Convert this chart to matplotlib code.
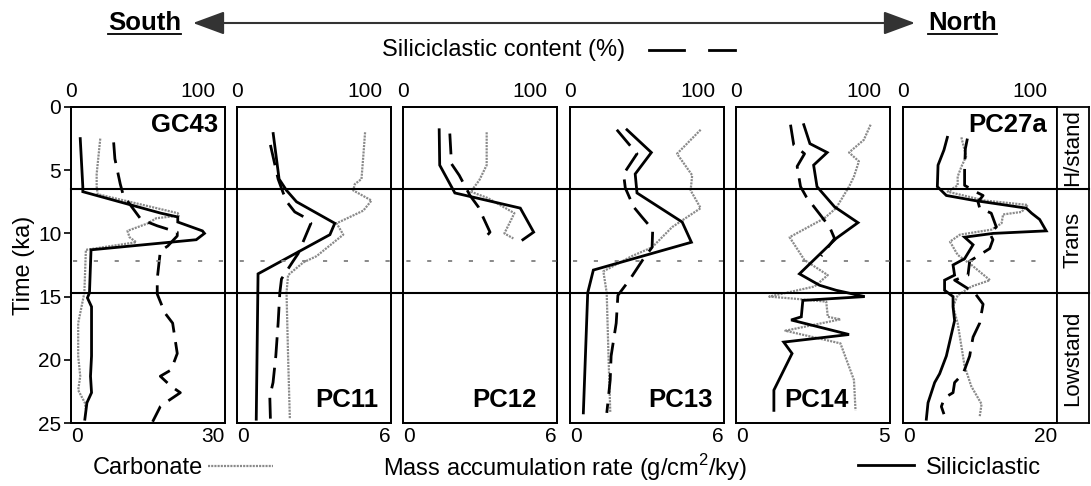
import numpy as np
import matplotlib.pyplot as plt
from matplotlib.lines import Line2D
from matplotlib.patches import FancyArrowPatch
import matplotlib.transforms as mtransforms

plt.rcParams['font.family'] = ['Liberation Sans', 'DejaVu Sans']
plt.rcParams['mathtext.fontset'] = 'custom'
plt.rcParams['mathtext.rm'] = 'Liberation Sans'
plt.rcParams['lines.scale_dashes'] = False

# cores south -> north, and max of the bottom (MAR) axis
cores = ['GC43', 'PC11', 'PC12', 'PC13', 'PC14', 'PC27a']
mar_max = [30, 6, 6, 6, 5, 20]
pct_max = 100

# sea-level stage boundaries (ka)
t_holo = 6.5
t_lgm = 14.7
t_mid = 12.2
stages = ['H/stand', 'Trans', 'Lowstand']
stage_mid = [3.2, 10.5, 19.9]

# GC43
gc43_sil_t = [2.5, 6.3, 6.7, 8.4, 8.7, 9.1, 9.8, 10.0, 10.5, 11.3, 14.7, 15.1, 15.8, 19.7, 21.3, 22.6, 23.4, 24.7]
gc43_sil = [1.8, 2.3, 2.3, 17.5, 20.8, 20.8, 25.6, 26.0, 24.4, 3.9, 3.6, 3.2, 4.0, 4.0, 3.8, 4.0, 3.1, 2.7]
gc43_pct_t = [2.8, 4.1, 6.1, 7.0, 8.9, 9.4, 9.9, 10.2, 11.0, 11.4, 13.6, 14.8, 16.3, 17.1, 19.5, 20.8, 21.3, 22.1, 22.6, 23.3, 23.7, 24.9]
gc43_pct = [27.7, 28.5, 32, 34, 45.5, 56, 69, 69, 62.8, 58, 56, 56, 61, 66, 69, 65, 58, 65, 71, 62.5, 58, 53]
gc43_carb_t = [2.5, 5.3, 6.3, 6.9, 8.4, 8.6, 8.8, 9.2, 9.8, 10.3, 10.7, 11.3, 14.7, 17.1, 19.7, 21.3, 22.4, 23.4, 23.9]
gc43_carb = [5.7, 5.0, 5.0, 5.2, 20.8, 21.0, 16.6, 15.0, 11.0, 11.4, 12.7, 2.9, 2.6, 1.4, 1.4, 1.8, 1.4, 2.7, 2.9]

# PC11
pc11_sil_t = [2.1, 5.7, 6.6, 7.5, 9.2, 10.1, 13.2, 24.7]
pc11_sil = [1.41, 1.64, 1.93, 2.32, 3.81, 3.62, 0.82, 0.75]
pc11_pct_t = [3.0, 5.7, 6.8, 7.6, 8.3, 8.8, 9.2, 11.6, 12.2, 13.6, 14.7, 17.1, 19.7, 21.8, 22.9, 24.7]
pc11_pct = [21.7, 26.7, 30, 33, 37.5, 45, 48, 39.7, 36.4, 28.9, 27.8, 26.7, 25.2, 23.4, 21.3, 21.7]
pc11_carb_t = [2.0, 3.9, 5.7, 6.1, 6.6, 7.4, 8.2, 9.2, 10.1, 11.8, 12.3, 13.3, 14.7, 19.7, 24.7]
pc11_carb = [4.99, 4.92, 4.85, 4.59, 4.53, 5.24, 4.92, 3.88, 4.14, 3.10, 2.58, 1.99, 1.93, 1.99, 2.06]

# PC12
pc12_sil_t = [1.8, 4.6, 6.8, 8.0, 9.9, 10.5]
pc12_sil = [1.41, 1.43, 2.02, 4.57, 5.09, 4.67]
pc12_pct_t = [2.1, 4.5, 5.4, 7.0, 7.9, 9.9, 10.5]
pc12_pct = [30.4, 31.5, 36.5, 43.5, 48.9, 56.5, 52.2]
pc12_carb_t = [2.0, 4.6, 5.8, 6.7, 7.2, 8.4, 10.0, 10.4]
pc12_carb = [3.26, 3.26, 2.97, 2.64, 3.30, 4.34, 3.95, 4.30]

# PC13
pc13_sil_t = [1.8, 3.6, 5.3, 6.8, 9.1, 10.7, 12.9, 14.7, 24.2]
pc13_sil = [2.22, 3.17, 2.54, 2.61, 4.37, 4.73, 0.91, 0.69, 0.52]
pc13_pct_t = [1.8, 3.7, 5.3, 6.4, 7.9, 8.7, 9.7, 11.1, 12.1, 13.6, 14.9, 17.1, 19.7, 21.6, 24.2]
pc13_pct = [30.4, 43.5, 34.8, 35.9, 41.3, 46.7, 53.7, 53.3, 47.2, 39.1, 31.1, 30.0, 26.7, 26.1, 23.9]
pc13_carb_t = [1.8, 3.7, 5.4, 6.6, 8.0, 9.5, 11.1, 11.8, 13.0, 14.7, 19.7, 24.2]
pc13_carb = [5.09, 4.17, 4.76, 4.70, 5.09, 3.98, 3.20, 2.41, 1.30, 1.43, 1.50, 1.57]

# PC14
pc14_sil_t = [1.4, 2.9, 3.6, 4.6, 6.3, 7.9, 9.15, 10.4, 13.2, 14.1, 14.5, 15.0, 15.3, 16.6, 16.85, 18.0, 18.6, 19.5, 22.4, 24.0]
pc14_sil = [2.20, 2.40, 2.96, 2.52, 2.63, 3.20, 3.96, 3.25, 2.06, 2.71, 3.25, 4.18, 2.17, 2.12, 1.79, 3.67, 1.55, 1.82, 1.23, 1.23]
pc14_pct_t = [1.4, 3.0, 3.7, 4.7, 6.3, 7.1, 8.8, 9.5, 10.4, 11.8]
pc14_pct = [35.4, 37.5, 44.5, 39.7, 41.9, 45.6, 56.4, 60.8, 64.0, 55.3]
pc14_carb_t = [1.4, 2.6, 3.6, 4.3, 5.5, 6.3, 8.0, 8.8, 10.3, 12.1, 13.3, 14.2, 14.5, 15.0, 15.2, 15.4, 16.6, 16.8, 17.7, 18.7, 21.6, 24.0]
pc14_carb = [4.37, 4.15, 3.67, 3.99, 3.83, 3.67, 3.25, 2.87, 1.74, 2.22, 2.98, 2.55, 2.00, 1.08, 2.06, 2.93, 2.98, 3.39, 1.60, 3.39, 3.83, 3.88]

# PC27a
pc27_sil_t = [2.4, 3.4, 4.6, 6.3, 7.0, 7.4, 8.0, 8.4, 8.9, 9.8, 10.0, 10.3, 10.9, 12.0, 12.5, 13.3, 13.7, 14.5, 15.0, 15.8, 16.9, 19.7, 21.1, 21.8, 23.4, 24.7]
pc27_sil = [5.76, 5.32, 4.55, 4.46, 5.63, 9.3, 16.0, 16.7, 17.75, 18.6, 11.7, 8.0, 9.1, 8.0, 6.5, 6.7, 5.4, 5.4, 6.5, 6.5, 6.7, 5.63, 4.76, 4.11, 3.25, 3.03]
pc27_pct_t = [2.5, 3.3, 5.0, 6.2, 6.8, 7.0, 7.5, 8.0, 8.4, 9.5, 10.0, 10.5, 11.2, 12.2, 13.3, 13.7, 14.7, 15.6, 16.4, 17.1, 18.2, 18.9, 19.7, 21.1, 21.8, 22.6, 23.0, 23.7, 24.3]
pc27_pct = [41.8, 40.5, 40.0, 40.0, 48.7, 52.0, 48.7, 49.8, 57.3, 60.6, 56.3, 58.4, 56.3, 43.3, 42.2, 33.5, 46.5, 52.0, 50.8, 49.8, 45.5, 44.4, 43.3, 39.0, 33.5, 32.5, 27.0, 24.9, 26.6]
pc27_carb_t = [2.4, 3.9, 4.7, 5.5, 6.2, 6.7, 7.4, 7.75, 8.3, 8.5, 9.2, 9.7, 10.1, 10.65, 11.7, 12.5, 13.7, 14.2, 14.9, 15.8, 17.1, 20.5, 22.1, 23.5, 24.5]
pc27_carb = [7.58, 8.2, 7.6, 7.1, 7.1, 5.8, 10.6, 16.2, 15.4, 13.0, 12.8, 11.5, 7.4, 6.1, 7.1, 8.9, 11.3, 8.9, 7.1, 6.5, 7.1, 8.0, 8.87, 10.2, 9.96]

sil_t = [gc43_sil_t, pc11_sil_t, pc12_sil_t, pc13_sil_t, pc14_sil_t, pc27_sil_t]
sil = [gc43_sil, pc11_sil, pc12_sil, pc13_sil, pc14_sil, pc27_sil]
pct_t = [gc43_pct_t, pc11_pct_t, pc12_pct_t, pc13_pct_t, pc14_pct_t, pc27_pct_t]
pct = [gc43_pct, pc11_pct, pc12_pct, pc13_pct, pc14_pct, pc27_pct]
carb_t = [gc43_carb_t, pc11_carb_t, pc12_carb_t, pc13_carb_t, pc14_carb_t, pc27_carb_t]
carb = [gc43_carb, pc11_carb, pc12_carb, pc13_carb, pc14_carb, pc27_carb]

W, H = 1091, 486
fig = plt.figure(figsize=(W / 100, H / 100), dpi=100)

def fx(px):
    return px / W

def fy(py):
    return 1 - py / H

carb_col = '#8a8a8a'
dash_style = (0, (15, 7))
carb_style = (0, (1.5, 0.8))
tick_fs = 15
lab_fs = 17

lefts = [71, 237, 403, 570, 736, 903]
pw = 154
top_px, bot_px = 107, 423
name_off = [7, 13, 20, 11, 41, 10]
name_top = [True, False, False, False, False, True]

axes = []
for i, core in enumerate(cores):
    ax = fig.add_axes([fx(lefts[i]), fy(bot_px), fx(pw), (bot_px - top_px) / H])
    ax.set_ylim(25, 0)
    ax.set_xlim(0, mar_max[i])
    ax.plot(carb[i], carb_t[i], color=carb_col, lw=1.6, ls=carb_style)
    ax.plot(sil[i], sil_t[i], color='black', lw=2.0, solid_joinstyle='miter')

    ax2 = ax.twiny()
    ax2.set_xlim(0, pct_max)
    ax2.plot(pct[i], pct_t[i], color='black', lw=2.0, ls=dash_style)

    for a in (ax, ax2):
        for s in a.spines.values():
            s.set_linewidth(1.3)

    ax.set_xticks([0, mar_max[i]])
    ax.set_xticklabels(['0', str(mar_max[i])])
    ax.tick_params(axis='x', length=0, labelsize=tick_fs, pad=3)
    xl = ax.get_xticklabels()
    xl[0].set_ha('left')
    xl[1].set_ha('right')

    ax2.set_xticks([0, pct_max])
    ax2.set_xticklabels(['0', '100'])
    ax2.tick_params(axis='x', length=0, labelsize=tick_fs, pad=4)
    tl = ax2.get_xticklabels()
    tl[1].set_ha('right')
    tl[1].set_transform(tl[1].get_transform() + mtransforms.ScaledTranslation(-9 / 100, 0, fig.dpi_scale_trans))

    if i == 0:
        ax.set_yticks([0, 5, 10, 15, 20, 25])
        ax.tick_params(axis='y', direction='out', length=5, width=1.2, labelsize=tick_fs, pad=2)
        ax.set_ylabel('Time (ka)', fontsize=lab_fs, labelpad=2)
    else:
        ax.tick_params(axis='y', left=False, labelleft=False)

    ty = 1.4 if name_top[i] else 23.2
    ax.text(1 - name_off[i] / pw, ty, core, transform=ax.get_yaxis_transform(),
            ha='right', va='center', fontsize=18.5, fontweight='bold')
    axes.append(ax)

# stage strip on the right
axs = fig.add_axes([fx(1057), fy(bot_px), fx(1089 - 1057), (bot_px - top_px) / H])
axs.set_ylim(25, 0)
axs.set_xlim(0, 1)
axs.set_xticks([])
axs.set_yticks([])
for s in axs.spines.values():
    s.set_linewidth(1.3)
for name, tm in zip(stages, stage_mid):
    axs.text(0.5, tm, name, rotation=90, ha='center', va='center', fontsize=16)

# stage boundaries across all cores
blend = mtransforms.blended_transform_factory(fig.transFigure, axes[0].transData)
for tb in (t_holo, t_lgm):
    fig.add_artist(Line2D([fx(71), fx(1089)], [tb, tb], transform=blend, color='black', lw=1.5))
fig.add_artist(Line2D([fx(73), fx(1040)], [t_mid, t_mid], transform=blend, color='#888888',
                      lw=1.4, ls=(0, (3, 12))))

# south-north arrow
arrow = FancyArrowPatch((fx(193), fy(23)), (fx(915), fy(23)), transform=fig.transFigure,
                        arrowstyle='<|-|>,head_length=1.95,head_width=0.72', mutation_scale=10,
                        color='#333333', lw=1.5, shrinkA=0, shrinkB=0)
fig.add_artist(arrow)

south = fig.text(fx(181), fy(23), 'South', ha='right', va='center', fontsize=18.5, fontweight='bold')
north = fig.text(fx(928), fy(23), 'North', ha='left', va='center', fontsize=18.5, fontweight='bold')
fig.canvas.draw()
for t in (south, north):
    bb = t.get_window_extent()
    fig.add_artist(Line2D([bb.x0 / W, bb.x1 / W], [(bb.y0 + 1) / H] * 2, transform=fig.transFigure,
                          color='black', lw=1.3))

# legend items
fig.text(fx(504), fy(50), 'Siliciclastic content (%)', ha='center', va='center', fontsize=lab_fs)
for x0, x1 in ((649, 684), (709, 735)):
    fig.add_artist(Line2D([fx(x0), fx(x1)], [fy(50), fy(50)], transform=fig.transFigure, color='black', lw=2))

fig.text(fx(203), fy(468), 'Carbonate', ha='right', va='center', fontsize=lab_fs)
fig.add_artist(Line2D([fx(208), fx(273)], [fy(466), fy(466)], transform=fig.transFigure,
                      color=carb_col, lw=1.6, ls=carb_style))
fig.text(fx(565), fy(468), 'Mass accumulation rate (g/cm$^{2}$/ky)', ha='center', va='center', fontsize=lab_fs)
fig.add_artist(Line2D([fx(858), fx(914)], [fy(465), fy(465)], transform=fig.transFigure, color='black', lw=2))
fig.text(fx(926), fy(468), 'Siliciclastic', ha='left', va='center', fontsize=lab_fs)

fig.savefig('out.png', dpi=100)
